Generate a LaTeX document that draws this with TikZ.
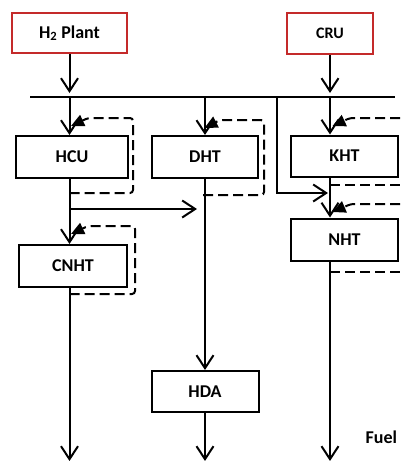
\documentclass[tikz,border=0pt]{standalone}
\usepackage{fontspec}
\setmainfont{Carlito}
\usepackage{tikz}
\usetikzlibrary{positioning, arrows.meta}
\definecolor{plantred}{RGB}{196,42,42}

\begin{document}
\begin{tikzpicture}[x=1pt, y=-1pt, line width=2pt]
    \tikzstyle{cell} = [rectangle, minimum width=107pt, minimum height=42pt, inner sep=0pt, text centered, draw=black, font=\fontsize{18}{21}\selectfont\bfseries]
    \tikzstyle{source} = [cell, draw=plantred, line width=1.5pt]
    \tikzstyle{flow} = [-{Straight Barb[length=13pt, width=17pt]}]
    \tikzstyle{recycle} = [dash pattern=on 10pt off 5pt, rounded corners=3pt, -{Triangle[length=13pt, width=12pt]}]
    \useasboundingbox (0,0) rectangle (400,461);
    \clip (0,0) rectangle (400,461);

    \node (plant) [source, minimum width=115pt, minimum height=40pt] at (69.5,33) {H\textsubscript{2} Plant};
    \node (cru) [source, minimum width=86pt, minimum height=41pt, font=\fontsize{16}{19}\selectfont\bfseries] at (330,33.5) {CRU};
    \node (hcu) [cell, minimum width=112pt] at (72,157) {HCU};
    \node (dht) [cell, minimum width=106pt, right = 22pt of hcu] {DHT};
    \node (kht) [cell, minimum height=41pt, right = 31pt of dht, yshift=1pt] {KHT};
    \node (nht) [cell, below = 40pt of kht] {NHT};
    \node (cnht) [cell, minimum width=108pt, below = 65pt of hcu, xshift=1pt] {CNHT};
    \node (hda) [cell, minimum height=41pt, below = 191pt of dht] {HDA};
    \node (fuel) [anchor=base east, inner sep=0pt, font=\fontsize{18}{21}\selectfont\bfseries] at (398,443) {Fuel};

    % header line and free ends
    \coordinate (busL) at (30,97);
    \coordinate (busR) at (395,97);
    \coordinate (split) at (277,97);
    \coordinate (turn) at (0,193);
    \coordinate (tee) at (69.5,209);
    \coordinate (teeEnd) at (197,209);
    \coordinate (foot) at (0,461);

    \draw (busL) -- (busR);
    \draw[flow, shorten >=4pt] (plant) -- (plant |- busL);
    \draw[flow, shorten >=4pt] (cru) -- (cru |- busL);
    \draw[flow] (plant |- busL) -- (plant |- hcu.north);
    \draw[flow] (dht |- busL) -- (dht);
    \draw[flow] (cru |- busL) -- (cru |- kht.north);
    \draw[flow] (cru |- kht.south) -- (cru |- nht.north);
    \draw[flow] (split) |- ([xshift=-2pt]cru |- turn);
    \draw[flow] (plant |- hcu.south) -- (plant |- cnht.north);
    \draw[flow] (tee) -- (teeEnd);
    \draw[flow] (plant |- cnht.south) -- (plant |- foot);
    \draw[flow] (dht) -- (hda);
    \draw[flow] (hda) -- (hda |- foot);
    \draw[flow] (cru |- nht.south) -- (cru |- foot);

    % recycle loops
    \draw[recycle] (69.5,193) -| (133,118) -- (88,118) -- (71,126);
    \draw[recycle] (203,195) -| (264,120) -- (220,120) -- (204.5,128);
    \draw[recycle] (400,118) -- (350,118) -- (332.5,126);
    \draw[dash pattern=on 10pt off 5pt] (330,185) -- (400,185);
    \draw[recycle] (400,204) -- (351,204) -- (332.5,212);
    \draw[dash pattern=on 10pt off 5pt] (330,272) -- (400,272);
    \draw[recycle] (69.5,294) -| (135,226) -- (88,226) -- (71,234);
\end{tikzpicture}
\end{document}
